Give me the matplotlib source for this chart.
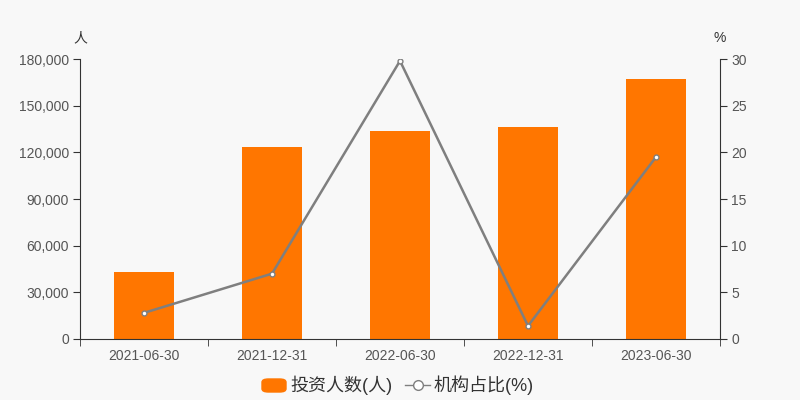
import matplotlib
matplotlib.use("Agg")
import matplotlib.pyplot as plt
from matplotlib.ticker import FuncFormatter, FixedLocator
from matplotlib.lines import Line2D
from matplotlib.patches import FancyBboxPatch

plt.rcParams['font.family'] = ['Liberation Sans', 'Noto Sans CJK SC', 'DejaVu Sans']

# data
dates = ['2021-06-30', '2021-12-31', '2022-06-30', '2022-12-31', '2023-06-30']
investors = [43000, 123500, 133700, 136300, 167200]
inst_pct = [2.8, 7.0, 29.8, 1.4, 19.5]

BG = '#f8f8f8'
ORANGE = '#ff7600'
GRAY = '#7f7f7f'
AX = '#333333'
TXT = '#555555'

fig = plt.figure(figsize=(8, 4), dpi=100, facecolor=BG)
ax = fig.add_axes([0.1, 0.1525, 0.8, 0.7])
ax.set_facecolor(BG)
x = list(range(len(dates)))
ax.bar(x, investors, width=0.47, color=ORANGE, zorder=2)
ax.set_xlim(-0.5, len(dates) - 0.5)
ax.set_ylim(0, 180000)
ax.set_yticks(range(0, 180001, 30000))
ax.yaxis.set_major_formatter(FuncFormatter(lambda v, p: f'{int(v):,}'))
ax.set_xticks(x)
ax.set_xticklabels(dates)
ax.xaxis.set_minor_locator(FixedLocator([i - 0.5 for i in range(len(dates) + 1)]))
ax.tick_params(axis='x', which='major', length=0, pad=7, labelsize=10, labelcolor=TXT)
ax.tick_params(axis='x', which='minor', length=5, color=AX)
ax.tick_params(axis='y', length=5, color=AX, labelsize=10, labelcolor=TXT, pad=3)
for s in ['top', 'right']:
    ax.spines[s].set_visible(False)
ax.spines['left'].set_color(AX)
ax.spines['bottom'].set_color(AX)

ax2 = ax.twinx()
ax2.plot(x, inst_pct, color=GRAY, lw=1.8, marker='o', ms=3.5,
         mfc='white', mec=GRAY, mew=1, zorder=3)
ax2.set_ylim(0, 30)
ax2.set_yticks(range(0, 31, 5))
ax2.tick_params(axis='y', length=5, color=AX, labelsize=10, labelcolor=TXT, pad=3)
for s in ['top', 'left', 'bottom']:
    ax2.spines[s].set_visible(False)
ax2.spines['right'].set_color(AX)

fig.text(0.1, 0.905, '人', ha='center', va='center', fontsize=10, color=AX)
fig.text(0.9, 0.905, '%', ha='center', va='center', fontsize=10, color=AX)

# legend
fig.patches.append(FancyBboxPatch((262 / 800, 1 - 392 / 400), 24 / 800, 13 / 400,
                                  boxstyle='round,pad=0,rounding_size=0.008',
                                  transform=fig.transFigure, color=ORANGE))
fig.text(290 / 800, 1 - 385 / 400, '投资人数(人)', ha='left', va='center',
         fontsize=13, color=AX)
fig.lines.append(Line2D([405 / 800, 430 / 800], [1 - 385 / 400] * 2,
                        transform=fig.transFigure, color=GRAY, lw=1))
fig.lines.append(Line2D([417.5 / 800], [1 - 385 / 400], transform=fig.transFigure,
                        marker='o', ms=7, mfc='white', mec=GRAY, mew=1))
fig.text(434 / 800, 1 - 385 / 400, '机构占比(%)', ha='left', va='center',
         fontsize=13, color=AX)

fig.savefig('out.png', dpi=100, facecolor=BG)
